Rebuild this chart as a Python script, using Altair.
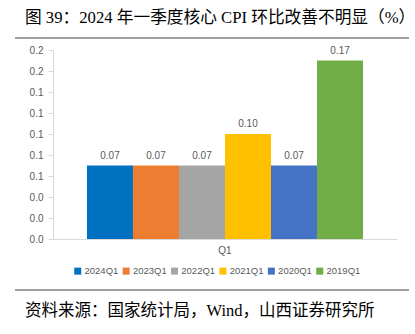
import altair as alt
import pandas as pd

series = ["2024Q1", "2023Q1", "2022Q1", "2021Q1", "2020Q1", "2019Q1"]
values = [0.07, 0.07, 0.07, 0.10, 0.07, 0.17]
colors = ["#0070C0", "#ED7D31", "#A5A5A5", "#FFC000", "#4472C4", "#70AD47"]
quarter = "Q1"
y_ticks = [0.0, 0.02, 0.04, 0.06, 0.08, 0.10, 0.12, 0.14, 0.16, 0.18]
title_text = "图 39：2024 年一季度核心 CPI 环比改善不明显（%）"
source_text = "资料来源：国家统计局，Wind，山西证券研究所"

df = pd.DataFrame({"series": series, "value": values, "quarter": [quarter] * len(series)})

CJK = "'Liberation Serif', 'Noto Sans CJK SC'"
SANS = "'Liberation Sans', 'Noto Sans CJK SC'"

x_enc = alt.X("quarter:N", title=None,
              scale=alt.Scale(paddingInner=0, paddingOuter=0.123),
              axis=alt.Axis(labelAngle=0, ticks=False, domainColor="#D9D9D9",
                            labelColor="#595959", labelFont=SANS, labelFontSize=10,
                            labelPadding=6))
xoff = alt.XOffset("series:N", sort=series, scale=alt.Scale(paddingInner=0, paddingOuter=0))
y_enc = alt.Y("value:Q", title=None,
              scale=alt.Scale(domain=[0, 0.18], nice=False),
              axis=alt.Axis(values=y_ticks, format=".1f", grid=False, labelOverlap=False,
                            domainColor="#D9D9D9", tickColor="#D9D9D9", tickSize=5,
                            labelColor="#595959", labelFont=SANS, labelFontSize=10,
                            labelPadding=5))
color_enc = alt.Color("series:N", sort=series,
                      scale=alt.Scale(domain=series, range=colors),
                      legend=alt.Legend(title=None, orient="none", legendX=20, legendY=216,
                                        direction="horizontal", symbolType="square",
                                        symbolSize=49, symbolStrokeWidth=0,
                                        labelFont=SANS, labelFontSize=9.5,
                                        labelColor="#595959", labelOffset=2,
                                        columnPadding=2.4))

base = alt.Chart(df)
bars = base.mark_bar().encode(x=x_enc, xOffset=xoff, y=y_enc, color=color_enc)
labels = base.mark_text(dy=-10, fontSize=10, font=SANS, color="#595959").encode(
    x=x_enc, xOffset=xoff, y=y_enc,
    text=alt.Text("value:Q", format=".2f"))

title = alt.Chart(pd.DataFrame({"t": [title_text]})).mark_text(
    align="left", baseline="middle", font=CJK, fontSize=16.7, color="#000000"
).encode(x=alt.value(-28), y=alt.value(-32), text="t")

source = alt.Chart(pd.DataFrame({"t": [source_text]})).mark_text(
    align="left", baseline="middle", font=CJK, fontSize=16.5, color="#000000"
).encode(x=alt.value(-28), y=alt.value(261), text="t")

rule_top = alt.Chart(pd.DataFrame({"a": [0]})).mark_rule(color="#404040", strokeWidth=1).encode(
    x=alt.value(-38), x2=alt.value(356), y=alt.value(-12))
rule_bot = alt.Chart(pd.DataFrame({"a": [0]})).mark_rule(color="#404040", strokeWidth=1).encode(
    x=alt.value(-38), x2=alt.value(356), y=alt.value(240))

chart = alt.layer(bars, labels, title, source, rule_top, rule_bot).properties(
    width=344, height=189,
    padding={"left": 53, "top": 50, "right": 18, "bottom": 95},
    autosize=alt.AutoSizeParams(type="none"),
    background="white",
).configure_view(stroke=None)

chart.save("out.html", embed_options={"renderer": "svg", "actions": False})
